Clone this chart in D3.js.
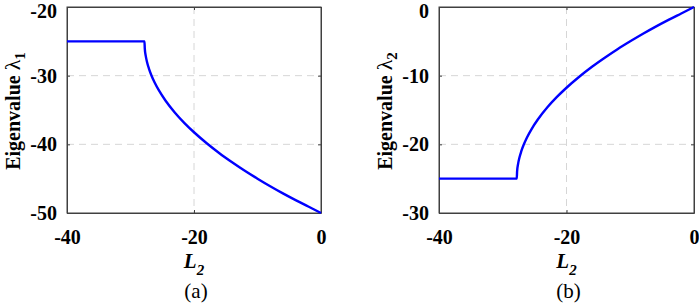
<!DOCTYPE html>
<html>
<head>
<meta charset="utf-8">
<script src="https://cdn.jsdelivr.net/npm/d3@7/dist/d3.min.js"></script>
<style>
  html, body { margin: 0; padding: 0; background: #fff; }
  svg { display: block; }
  text { font-family: "Liberation Serif", "Times New Roman", serif; fill: #000; }
</style>
</head>
<body>
<svg id="chart" width="699" height="307"></svg>
<script>
// ---- data ----
const L2 = [-40, -27.8, -27.75, -27.6, -27.4, -27.1, -26.7, -26.2, -25.5, -24.5, -23, -21.5, -20, -18, -16, -14, -12, -10, -8, -6, -4, -2, 0];
const lambda1 = [-25, -25, -26.06, -27.12, -28.0, -28.97, -29.97, -31.0, -32.19, -33.61, -35.39, -36.9, -38.24, -39.84, -41.29, -42.61, -43.85, -45.0, -46.1, -47.14, -48.12, -49.06, -50];
const lambda2 = [-25, -25, -23.94, -22.88, -22.0, -21.03, -20.03, -19.0, -17.81, -16.39, -14.61, -13.1, -11.76, -10.16, -8.71, -7.39, -6.15, -5.0, -3.9, -2.86, -1.88, -0.94, 0];
const xTicks = [-40, -20, 0];
const yTicks1 = [-50, -40, -30, -20];
const yTicks2 = [-30, -20, -10, 0];
const yLabelSub1 = "1";
const yLabelSub2 = "2";
const panelLabels = ["(a)", "(b)"];

const svg = d3.select("#chart");
const SERIF = "'Liberation Serif', 'Times New Roman', serif";

function drawPanel(opt) {
  const { left, right, top, bottom, values, yTicks, sub, caption } = opt;
  const x = d3.scaleLinear().domain([-40, 0]).range([left, right]);
  const y = d3.scaleLinear().domain(d3.extent(yTicks)).range([bottom, top]);
  const g = svg.append("g");

  // grid
  g.selectAll(".gx").data(xTicks.slice(1, -1)).enter().append("line")
    .attr("x1", d => x(d)).attr("x2", d => x(d))
    .attr("y1", top).attr("y2", bottom)
    .attr("stroke", "#d6d6d6").attr("stroke-width", 1).attr("stroke-dasharray", "7,5");
  g.selectAll(".gy").data(yTicks.slice(1, -1)).enter().append("line")
    .attr("x1", left).attr("x2", right)
    .attr("y1", d => y(d)).attr("y2", d => y(d))
    .attr("stroke", "#d6d6d6").attr("stroke-width", 1).attr("stroke-dasharray", "7,5");

  // axes via d3 axis (inward ticks)
  const xAxis = g.append("g").attr("transform", `translate(0,${bottom})`)
    .call(d3.axisBottom(x).tickValues(xTicks).tickSizeInner(-3).tickSizeOuter(0).tickPadding(17).tickFormat(d3.format("d")));
  const yAxis = g.append("g").attr("transform", `translate(${left},0)`)
    .call(d3.axisLeft(y).tickValues(yTicks).tickSizeInner(-3).tickSizeOuter(0).tickPadding(10).tickFormat(d3.format("d")));
  g.append("g").attr("transform", `translate(0,${top})`)
    .call(d3.axisTop(x).tickValues(xTicks).tickSizeInner(-3).tickSizeOuter(0).tickFormat(""));
  g.append("g").attr("transform", `translate(${right},0)`)
    .call(d3.axisRight(y).tickValues(yTicks).tickSizeInner(-3).tickSizeOuter(0).tickFormat(""));

  g.selectAll(".domain").attr("stroke", "#404040").attr("stroke-width", 1);
  g.selectAll(".tick line").attr("stroke", "#404040");
  [xAxis, yAxis].forEach(a => {
    a.attr("font-family", SERIF);
    a.selectAll(".tick text")
      .style("font-family", SERIF)
      .attr("font-size", 20).attr("font-weight", "bold").attr("fill", "#000")
      .text(function(d) { return d3.format("d")(d).replace("−", "-"); });
  });
  // keep the top y label inside the picture
  yAxis.selectAll(".tick text").filter(d => d === yTicks[yTicks.length - 1]).attr("dy", "0.5em");

  // box outline
  g.append("rect").attr("x", left).attr("y", top)
    .attr("width", right - left).attr("height", bottom - top)
    .attr("fill", "none").attr("stroke", "#404040").attr("stroke-width", 1);

  // curve
  const pts = L2.map((l, i) => [l, values[i]]);
  g.append("path").datum(pts)
    .attr("fill", "none").attr("stroke", "#0000ff").attr("stroke-width", 2.4)
    .attr("d", d3.line().x(d => x(d[0])).y(d => y(d[1])).curve(d3.curveMonotoneX));

  // y label
  const cy = (top + bottom) / 2 + 1;
  const yl = g.append("text")
    .attr("transform", `translate(${left - 47},${cy}) rotate(-90)`)
    .attr("text-anchor", "middle").attr("font-size", 20);
  yl.append("tspan").attr("font-weight", "bold").text("Eigenvalue ");
  yl.append("tspan").attr("font-size", 22).text("λ");
  yl.append("tspan").attr("font-size", 15).attr("font-weight", "bold").attr("dy", 5).text(sub);

  // x label
  const cx = (left + right) / 2;
  const xl = g.append("text").attr("x", cx).attr("y", 268)
    .attr("text-anchor", "middle").attr("font-size", 21)
    .attr("font-weight", "bold").attr("font-style", "italic");
  xl.append("tspan").text("L");
  xl.append("tspan").attr("font-size", 15).attr("dy", 7).text("2");

  // caption
  g.append("text").attr("x", cx + 2).attr("y", 298)
    .attr("text-anchor", "middle").attr("font-size", 21).text(caption);
}

drawPanel({ left: 67, right: 321, top: 7, bottom: 213, values: lambda1, yTicks: yTicks1, sub: yLabelSub1, caption: panelLabels[0] });
drawPanel({ left: 439, right: 694, top: 7, bottom: 213, values: lambda2, yTicks: yTicks2, sub: yLabelSub2, caption: panelLabels[1] });
</script>
</body>
</html>
